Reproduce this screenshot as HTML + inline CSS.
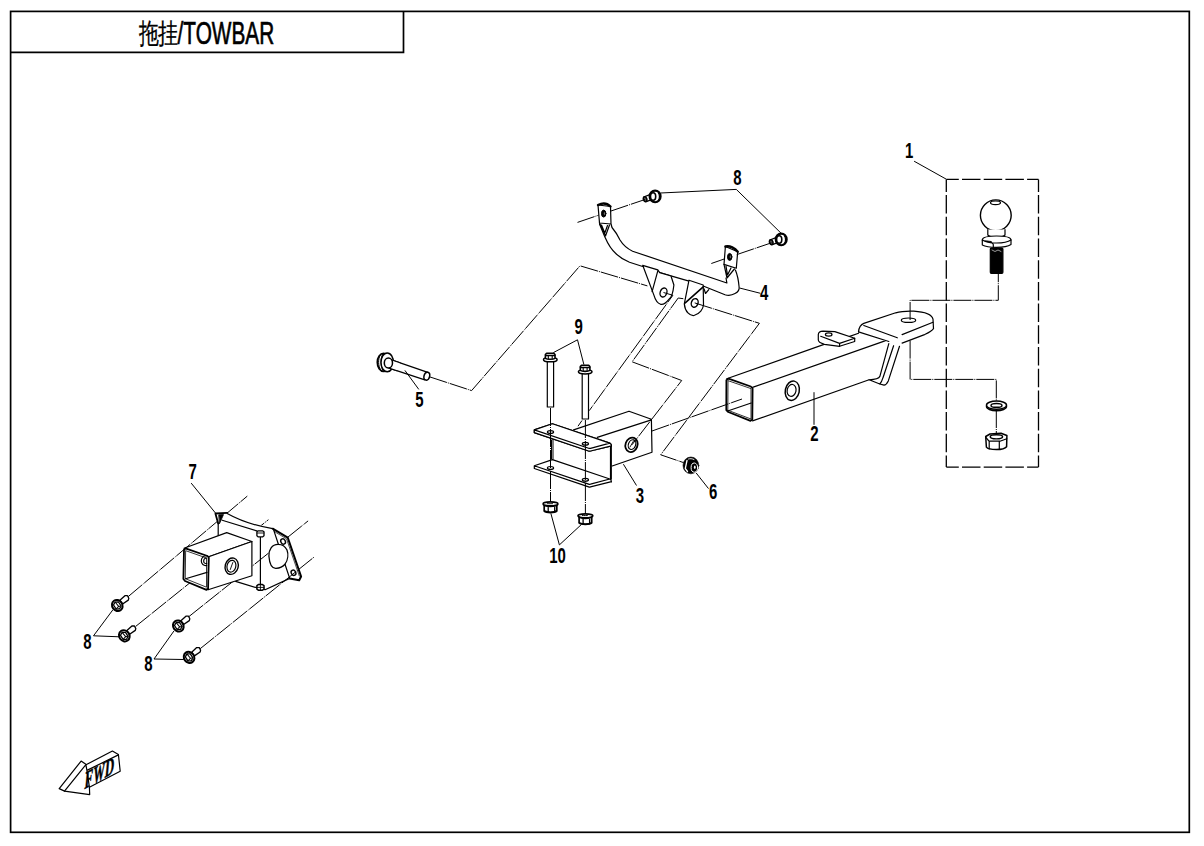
<!DOCTYPE html>
<html><head><meta charset="utf-8">
<style>
html,body{margin:0;padding:0;background:#fff;width:1204px;height:846px;overflow:hidden}
svg{display:block}
.t{font-family:"Liberation Sans",sans-serif;}
</style></head><body>
<svg width="1204" height="846" viewBox="0 0 1204 846">
<defs>
<g id="b8" fill="#fff" stroke="#000" stroke-width="1.2" stroke-linejoin="round">
<path d="M2.6 -5.2L7.6 -9.8L10.2 -9.8L11.5 -7.2L11 -5.4L5.3 -1.5Z" stroke-width="1.3"/>
<ellipse cx="0" cy="0" rx="5.1" ry="5.8" stroke-width="2" transform="rotate(-35)"/>
<path d="M-2.8 -2.6L0.2 -4.1L3 -2.2L2.8 2.6L-0.2 4.1L-3 2.2Z" stroke-width="1.3" transform="rotate(-35)"/>
<path d="M0.2 -4.1L0.6 1.5M-3 2.2L0.6 1.5L2.8 2.6" stroke-width="1" transform="rotate(-35)"/>
</g>
<g id="bt" fill="#fff" stroke="#000" stroke-width="1.2" stroke-linejoin="round">
<path d="M-11.4 0.6L-4.6 -2L-2.9 3L-8.8 5.2Z" stroke-width="1.3"/>
<ellipse cx="-10" cy="2.8" rx="1.7" ry="2.5" transform="rotate(-20 -10 2.8)" fill="#555" stroke-width="1.5"/>
<ellipse cx="0" cy="0" rx="5.5" ry="5.8" stroke-width="2.1"/>
<path fill="none" d="M3.2 -3.6C4.6 -2 4.8 2 3.2 4" stroke-width="1.2"/>
<ellipse cx="-2" cy="0.1" rx="2.6" ry="3.7" stroke-width="1.6"/>
</g>
</defs>

<!-- frame -->
<g fill="none" stroke="#000" stroke-linejoin="miter">
<rect x="10.6" y="11.4" width="1178.7" height="820.9" stroke-width="1.7"/>
<path d="M10.6 52.3H403.5V11.4" stroke-width="1.7"/>
</g>
<!-- title -->
<text class="t" x="0" y="0" font-size="28" transform="translate(138.5 42.6) scale(0.71 1)" fill="#000" stroke="#000" stroke-width="0.3">拖挂</text>
<text class="t" x="0" y="0" font-size="32" transform="translate(177.6 43.6) scale(0.65 1)" fill="#000" stroke="#000" stroke-width="0.7">/TOWBAR</text>

<!-- PART 7 under lines -->
<g fill="none" stroke="#000" stroke-width="1" stroke-dasharray="18 1 1 1">
<path d="M128.2 596.6L247.3 496.1"/>
<path d="M135.7 626.4L268.4 519.7"/>
<path d="M287.8 537.2L308.1 520.9"/>
</g>

<g fill="#fff" stroke="#000" stroke-width="1.2" stroke-linejoin="round" stroke-linecap="round">
<!-- PART 7 plate -->
<path stroke="none" d="M215.4 513.5L227.2 512.9C240 518 255 524 272.7 528.7L287.8 537.7L301.1 576.5L299.2 580.3L289.7 578.4L265.1 589.7L260 588.7L235.6 581.4L226.7 545L218.2 535.9L218.2 523.6Z"/>
<path fill="none" d="M218.2 523.6L215.4 513.5L227.2 512.9" stroke-width="1.8"/>
<path fill="#000" stroke-width="0.8" d="M219 514.8L223.5 514.6L219.6 523.4Z"/>
<path fill="none" d="M218.2 523.6V536"/>
<path fill="none" d="M227.2 513.5Q246 524.1 272.7 528.7"/>
<path fill="none" d="M222.2 520.2L256.8 530.9"/>
<path fill="none" d="M272.7 528.7L287.8 537.7L301.1 576.5L299.2 580.3L289.7 578.4" stroke-width="2"/>
<path fill="none" d="M274.3 531.5L286.5 538.8L299.3 576" stroke-width="0.7"/>
<path fill="none" d="M273.7 530.1L278.4 544.3M285 564.2L289.7 578.4"/>
<path fill="none" d="M289.7 578.4L265.1 589.7M235.6 581.4L260 588.7L265.1 589.7"/>
<path fill="none" d="M278.4 544.3C272 544 268.5 550 268.9 556C269.5 564 272 568.5 276 568.3C280 568 283 566.5 285 564.2C288 560 288.5 554 287 550C285 546 282 544.3 278.4 544.3Z" stroke-width="1.3"/>
<ellipse cx="283.1" cy="541.5" rx="2.2" ry="2.8" transform="rotate(-30 283.1 541.5)" stroke-width="1.4"/>
<ellipse cx="293.5" cy="572.7" rx="2.2" ry="2.8" transform="rotate(-30 293.5 572.7)" stroke-width="1.4"/>
<path fill="none" d="M260.4 536V585"/>
<path d="M256.9 531.8L258.3 530.8H262.5L264 531.8V535.8L262.5 536.9H258.3L256.9 535.8Z" stroke-width="1.3"/><path fill="none" d="M257.2 533H263.8" stroke-width="0.9"/>
<path d="M256.9 585.6L258.3 584.6H262.5L264 585.6V589.2L262.5 590.2H258.3L256.9 589.2Z" stroke-width="1.5"/><path fill="none" d="M256.9 587.4H264M260.4 584.6V590.2" stroke-width="0.9"/>
</g>

<!-- PART 7 over-plate lines -->
<g fill="none" stroke="#000" stroke-width="1" stroke-dasharray="18 1 1 1">
<path d="M189 616.5L268.9 552.8"/>
<path d="M200.2 648.7L314.3 556.9"/>
</g>

<g fill="#fff" stroke="#000" stroke-width="1.2" stroke-linejoin="round" stroke-linecap="round">
<!-- PART 7 box -->
<path d="M184 548.3L226.7 532.6L251.9 541.5L208.7 556.7Z"/>
<path d="M208.7 556.7L251.9 541.5L251.9 575.8L208.1 589.8Z"/>
<path d="M185.5 548.3L207.5 556L208.7 557.5L208.1 588.5L206.5 589.8L185 581L183.4 579L184 549.8Z" stroke-width="1.8"/>
<path fill="none" d="M186 550.8L206.5 558V587.2L185.6 578.8Z" stroke-width="0.8"/>
<path fill="none" d="M185.6 578.8L207 572.4"/>
<path fill="none" d="M206.7 555.8C203.5 555.5 201.2 558 201.3 561C201.4 564 203.5 566 206.7 565.5M206.7 558C204.8 558 203.6 559.5 203.7 561.2C203.8 563 205 563.8 206.7 563.4"/>
<ellipse cx="231.7" cy="566.2" rx="6.5" ry="8.3" transform="rotate(15 231.7 566.2)" stroke-width="1.4"/>
<ellipse cx="231.4" cy="566.2" rx="4.4" ry="6" transform="rotate(15 231.4 566.2)"/>
<path fill="none" d="M230.3 569.5L232.8 562.5" stroke-width="0.9"/>
</g>

<!-- PART 8 bolts (left) -->
<use href="#b8" transform="translate(117.3 605.5)"/>
<use href="#b8" transform="translate(124.3 635.8)"/>
<use href="#b8" transform="translate(178.3 626)"/>
<use href="#b8" transform="translate(189.1 657.4)"/>

<g fill="#fff" stroke="#000" stroke-width="1.2" stroke-linejoin="round" stroke-linecap="round">
<!-- PART 4 bracket -->
<path fill="none" d="M599.5 224L604.9 237C607.5 243 611 249.5 616.3 254C620 257.5 624 260 629.5 262.3L642.7 266.5"/>
<path fill="none" d="M659.7 272.7L689 281.2"/>
<path fill="none" d="M703.2 286L725 294.7C732 297 740 292 739.1 287C738.5 280 737 274 735.4 270.1"/>
<path fill="none" d="M611.2 224.5L612 227.5C615 231 618 236 620 240C623 245 627 248.5 632.6 251.2L726.9 283L726 278"/>
<!-- left lower tab -->
<path d="M642.7 265.3L657.8 269.8L659.7 272.7L671 276L673.9 285C673 293 671 298 669.1 299.1C666 303 663 305 660.6 304.3C657 303 655 299 654 295.4Z"/>
<path fill="none" d="M657.8 270.8L652.1 291.6"/>
<ellipse cx="663.5" cy="292.5" rx="3.3" ry="4.6" transform="rotate(20 663.5 292.5)" stroke-width="1.4"/>
<!-- right lower tab -->
<path d="M689 280.2L703.2 285L703.5 305C703 309 700 314 694 315.5C690 316 685 312 684.3 303.9Z"/>
<path fill="none" d="M703.2 286.9L685.2 302.9" stroke-width="1.6"/>
<path fill="none" d="M704.1 288.8L705.5 293.5L708.8 289.7"/>
<ellipse cx="694.7" cy="302.9" rx="3.3" ry="4.4" transform="rotate(20 694.7 302.9)" stroke-width="1.4"/>
<!-- upper tabs -->
<path d="M598 205L610.5 206.5L611 224L599.5 223Z"/>
<path d="M598 205C603 202.5 607 203 610.5 206.5" fill="none" stroke-width="2.4"/>
<path fill="none" d="M599.5 223L605.5 236L609.5 225M601.5 225L604.8 233L607.5 225.5"/>
<ellipse cx="603.7" cy="213.6" rx="2.2" ry="3.5" fill="#000" stroke-width="1"/><ellipse cx="604.3" cy="213.4" rx="0.5" ry="1.5" fill="#888" stroke="none"/>
<path d="M725.4 246.5L737.7 251.7L736.3 268.2L724 264.4Z"/>
<path d="M725.4 246.5C730 245.5 735 248 737.7 251.7" fill="none" stroke-width="2.4"/>
<path fill="none" d="M724 264.4L727 278L734.4 269M726 266L727.5 275L731 268"/>
<ellipse cx="729.7" cy="256.9" rx="2.2" ry="3.5" fill="#000" stroke-width="1"/><ellipse cx="730.3" cy="256.7" rx="0.5" ry="1.5" fill="#888" stroke="none"/>
</g>
<use href="#bt" transform="translate(655.1 196.4)"/>
<use href="#bt" transform="translate(781.2 239.4)"/>

<g fill="#fff" stroke="#000" stroke-width="1.2" stroke-linejoin="round" stroke-linecap="round">
<!-- PART 5 bolt -->
<path d="M392.9 360.4L427.8 372.4L424.8 379.9L389.9 368.4Z"/>
<ellipse cx="426.8" cy="376.2" rx="2.8" ry="4" transform="rotate(15 426.8 376.2)" stroke-width="1.5"/>
<ellipse cx="383.6" cy="362.3" rx="6.3" ry="9" stroke-width="1.7"/>
<path fill="none" d="M380 355.5C378 359 378 366 380.5 369.5M382.5 354.5C380.5 358.5 380.5 366 383 370.5" stroke-width="1"/>
<path d="M387.2 353C391 353 393.4 357.5 393.4 362.4C393.4 367.5 391 371.8 387.2 371.8C383.5 371.8 381 367.5 381 362.4C381 357.5 383.5 353 387.2 353Z" stroke-width="1.5"/>
<path stroke="none" d="M392.9 360.4L400 362.8L397 370.8L389.9 368.4Z"/>
<path fill="none" d="M391 359.8L400 362.8M389 368.1L397 370.7"/>
<ellipse cx="388.4" cy="363" rx="4.1" ry="5" stroke-width="1.5"/>

<!-- PART 9 bolts -->
<path d="M547.3 360V407H553.6V360"/>
<path d="M582.2 372V419H588.5V372"/>
<g id="b9">
<ellipse cx="550.3" cy="359.7" rx="6.8" ry="2.1" stroke-width="1.5"/>
<path d="M545.4 354.5L546.6 353.2H553.8L555 354.5V358.3C553 359.6 547.4 359.6 545.4 358.3Z" stroke-width="1.6"/>
<path fill="none" d="M545.6 355.4H554.8" stroke-width="1.5"/>
<path fill="none" d="M548.3 355.6V359M552.2 355.6V359" stroke-width="1.1"/>
</g>
<use href="#b9" transform="translate(34.9 12.1)"/>

<!-- PART 3 bracket -->
<path stroke="none" d="M573.6 429.9L629 411.2L651.4 419.3L652 452.3L612.2 466L597.2 437.4Z"/>
<path fill="none" d="M573.6 429.9L629 411.2L651.4 419.3L652 452.3L612.2 466M597.2 437.4L651.4 419.9"/>
<ellipse cx="631.5" cy="444.8" rx="6" ry="7.4" transform="rotate(20 631.5 444.8)" stroke-width="1.8"/>
<ellipse cx="632" cy="444.6" rx="3.6" ry="5" transform="rotate(20 632 444.6)"/>
<path fill="none" d="M630 447L633.5 441" stroke-width="0.9"/>
<path stroke="none" d="M553 439L611.6 444V479L553 459.5Z"/>
<g id="p3plate">
<path stroke="none" d="M534.3 429.9L552.4 423.7L609.8 443.1Q611.8 444.2 611 446L589.5 451.5L534.3 432.6Z"/>
<path fill="none" d="M534.3 432.6V429.9L552.4 423.7L609.8 443.1Q611.5 444 611.5 446M534.3 429.9L588.6 448.2Q589.5 448.6 590.5 448.3L609.8 443.1M534.3 432.6L588.6 451Q589.5 451.3 590.5 451L611.5 445.8"/>
</g>
<use href="#p3plate" transform="translate(0 35.9)"/>
<path fill="none" d="M610.9 445.8V479" stroke-width="2"/>
<path fill="none" d="M553 439.5V459.3M551.5 440V459" stroke-width="1"/>
<use href="#p3plate"/>
<ellipse cx="550.5" cy="432.1" rx="3.1" ry="1.4"/>
<ellipse cx="585.4" cy="443.8" rx="3.1" ry="1.4"/>
<ellipse cx="550.5" cy="467.9" rx="3.1" ry="1.4"/>
<ellipse cx="585.4" cy="479.7" rx="3.1" ry="1.4"/>

<!-- PART 10 nuts -->
<path d="M544.2 504.9V511.09999999999997C545.5 512.3 548.5 512.6 550.5 512.6C552.5 512.6 555.5 512.3 556.8 511.09999999999997V504.9Z" stroke-width="1.7"/>
<path fill="none" d="M548.2 507.4V512.4M554.7 507.4V511.9M544.5 510.9C547.5 512.4 553.5 512.4 556.5 510.9" stroke-width="1.3"/>
<ellipse cx="550.5" cy="503.9" rx="7.4" ry="2" stroke-width="1.7"/>
<path fill="none" d="M545.5 505.7C548.5 506.9 552.5 506.9 555.5 505.7" stroke-width="1.3"/>
<path fill="none" d="M547.5 503.7H553.5" stroke-width="1" stroke-dasharray="1 1"/>
<path d="M579.1 516.8V523.0C580.4 524.1999999999999 583.4 524.5 585.4 524.5C587.4 524.5 590.4 524.1999999999999 591.6999999999999 523.0V516.8Z" stroke-width="1.7"/>
<path fill="none" d="M583.1 519.3V524.3M589.6 519.3V523.8M579.4 522.8C582.4 524.3 588.4 524.3 591.4 522.8" stroke-width="1.3"/>
<ellipse cx="585.4" cy="515.8" rx="7.4" ry="2" stroke-width="1.7"/>
<path fill="none" d="M580.4 517.5999999999999C583.4 518.8 587.4 518.8 590.4 517.5999999999999" stroke-width="1.3"/>
<path fill="none" d="M582.4 515.5999999999999H588.4" stroke-width="1" stroke-dasharray="1 1"/>

<!-- PART 6 nut -->
<ellipse cx="690.9" cy="465.4" rx="7.9" ry="8.4" fill="#000" stroke="#000" stroke-width="0.6"/>
<path fill="none" stroke="#fff" stroke-width="1.3" d="M687 460.5L685.3 468.5L687.5 471.5"/>
<path fill="none" stroke="#fff" stroke-width="0.9" d="M688.5 459C690 458.5 692 458.5 694 459.5"/>
<ellipse cx="694.4" cy="467.6" rx="3.3" ry="4.6" fill="none" stroke="#fff" stroke-width="1"/>
<ellipse cx="694.8" cy="467.2" rx="0.9" ry="1.8" fill="#fff" stroke="none"/>

<!-- PART 2 tube -->
<path stroke="none" d="M726.7 378.8L824.1 344.4L858.5 331.9L888.8 343.6L879.8 376.6L869 380.7L752.5 420.9Z"/>
<path fill="none" d="M726.7 378.8L824.1 344.4M849 336.6L858.5 333.3M752.5 387.4L887.8 339.9M752.5 420.9L869.1 379.8"/>
<path d="M728.5 378.6L750.8 386.5L752.6 388.5L752.3 419.5L750.5 420.8L728.3 412L726.3 410L726.4 380.3Z" stroke-width="1.8"/>
<path fill="none" d="M728.4 380.8L751 388.6V419L728.2 410.4Z" stroke-width="0.8"/>
<path fill="none" d="M728.4 410.8L751.2 403"/>
<ellipse cx="792.3" cy="390.7" rx="7" ry="9.8" transform="rotate(12 792.3 390.7)" stroke-width="1.5"/>
<ellipse cx="791.6" cy="390.4" rx="4.4" ry="6" transform="rotate(12 791.6 390.4)" stroke-width="1.2"/>
<!-- tube tab -->
<path d="M818.3 340.1V334.5C818.5 332.5 820.5 331.1 823 331.1L834.8 331.6L854.7 338.2V341.5L839.6 346.3L824.4 344.4C821.5 343.5 818.3 342 818.3 340.1Z"/>
<path fill="none" d="M820.7 336.3L839.6 343.4L854.7 338.2M839.6 343.4V346.3"/>
<ellipse cx="828.7" cy="334.5" rx="3.3" ry="1.6"/>
<!-- hitch plate -->
<path stroke="none" d="M858.5 331.9C859 327 861 324.5 863.8 323.4L895.7 312.8C902 311 908 311 913.8 311.2C925 312 932 315 933 319.1L933.5 328.7C931 332 927 333.5 924.5 334.6L902.1 343.1L897.3 338.5L886 341.6Z"/>
<path fill="none" d="M858.5 331.9C859 327 861 324.5 863.8 323.4L895.7 312.8C902 311 908 311 913.8 311.2C925 312 932 315 933 319.1L933.5 328.7C931 332 927 333.5 924.5 334.6L902.1 343.1"/>
<path fill="none" d="M863.8 325.5L897.3 337.8M902.1 334.6L933 322.3M858.5 331.9L888.8 341.5"/>
<ellipse cx="908.5" cy="320.2" rx="7.2" ry="2.2"/>
<path stroke="none" d="M886.2 341.6L899.5 346.3L888.3 380.9C887 383.5 885.5 385 884 385.1L870.2 379.8C876 379.5 879 378.5 879.8 376.6Z"/>
<path fill="none" d="M888.8 343.6L879.8 376.6C879 378.5 876 379.5 869.1 379.8M893.6 345.7L883 377.7C882 381 881 383 879.8 384M899.5 346.3L888.3 380.9C887 383.5 885.5 385 884 385.1L879.8 384L869.1 379.8"/>

<!-- PART 1 ball hitch -->
<circle cx="995.8" cy="215.3" r="15.4" stroke-width="1.4"/>
<ellipse cx="995.5" cy="202.8" rx="5" ry="1.8"/>
<path d="M987.8 229.5V235C990 237 993 237.5 996.4 237.5C1000 237.5 1003 237 1005 235V229.5"/>
<path d="M982.3 240C982.3 237 990 236 996.5 236C1003 236 1011 237 1011 240V244.5C1008 246.5 1003 247.4 996.5 247.4C990 247.4 985 246.5 982.3 245Z"/>
<path fill="none" d="M982.3 240C985 242 990 243 996.5 243C1003 243 1008 242 1011 240M982.5 240.5L991 241.5L993.3 244.5V247.3"/>
<rect x="990.3" y="248" width="12.6" height="25.3" rx="1" fill="#000"/>
<path fill="none" stroke="#fff" stroke-width="0.6" d="M992 250L995 251.5L998 250L1001 251.5"/>

<ellipse cx="996.5" cy="406.6" rx="10" ry="4.1" stroke-width="1.5"/>
<ellipse cx="996.5" cy="405.2" rx="10" ry="4.1" stroke-width="1.5"/>
<ellipse cx="996.5" cy="405.4" rx="5.5" ry="1.9" stroke-width="1.4"/>
<path d="M985.7 436.5L990 434L1001 433.3L1006.9 435.5L1006.6 446.8C1005 448.8 1002 449.6 996.4 449.6C991 449.6 987.5 448.8 986.4 447.2Z" stroke-width="1.5"/>
<path fill="none" d="M985.9 437.5L989 441.2H1000L1006.8 438.8M989.2 441.2V449M999.3 441.2V449.5" stroke-width="1.2"/>
<ellipse cx="996.4" cy="436.8" rx="6.2" ry="2.1" stroke-width="1.4"/>

<!-- FWD arrow -->
<path d="M59.2 788.6L81.1 761.1L85.9 764.3L86.5 764.5L112.4 751L118.4 754.5L120.2 771.2L89.4 787.2L89.7 794.6L64.5 791.1Z"/>
<path fill="none" d="M64.5 791.1L85.9 764.6L86.9 770.4L118.4 754.9M86.9 770.4L89.4 787.2"/>
</g>
<text x="0" y="0" font-family="Liberation Serif" font-weight="bold" font-style="italic" font-size="24" transform="translate(84.5 789) skewY(-29) scale(0.54 1)" fill="#000" stroke="#000" stroke-width="0.6">FWD</text>

<!-- center (dash-dot) lines over parts -->
<g fill="none" stroke="#000" stroke-width="1" stroke-dasharray="18 1 1 1">
<path d="M429.8 376.9L471.6 390.6L580 265.8L647.4 285.9"/>
<path d="M663.5 292.5L672.9 295.3L589.2 410.7M582 420.5L578 426.2"/>
<path d="M683.3 298.7L678.2 298L632.1 361.8L681.7 380.5L632 444.8"/>
<path d="M694.7 302.9L759.4 323.3L660.7 454.8L683.5 462.6"/>
<path d="M652 431L742 399"/>
<path d="M577.5 222.4L598.6 215.2M611 211L645 199.5"/>
<path d="M711.3 263.5L724.5 258.9M736.8 254.6L771.5 242.8"/>
<path d="M550.5 408V502"/>
<path d="M585.4 420V514"/>
<path d="M910.1 320V300.3H998.3V274"/>
<path d="M910.1 340.6V379.4H996.3V401"/>
<path d="M996.3 410V434"/>
</g>
<!-- dashed box part 1 -->
<g fill="none" stroke="#000" stroke-width="1.3" stroke-dasharray="18.5 3.2" stroke-dashoffset="6">
<path d="M946.3 179.4H1038.5"/><path d="M946.3 179.4V467.1"/><path d="M1038.5 179.4V467.1"/><path d="M946.3 467.1H1038.5"/>
</g>

<!-- leaders -->
<g fill="none" stroke="#000" stroke-width="1">
<path d="M914.1 161.2L946.3 179.2"/>
<path d="M814 392.2V424.8"/>
<path d="M623.4 464.2L636.5 485.5"/>
<path d="M739.6 288L760.4 293.3"/>
<path d="M404.9 370.4L418.8 389.4"/>
<path d="M696.2 473L708.5 488.6"/>
<path d="M191.2 483.1L215.6 513.2"/>
<path d="M660.4 193L736.3 189.4L781.7 233.8"/>
<path d="M553.4 352.6L577.5 339.8L583.9 364.6"/>
<path d="M550.9 513.5L559.4 544.9L581.2 524.7"/>
<path d="M112.9 609.8L93.5 635.8L119.4 636.8"/>
<path d="M174 630.9L154 659L183.7 659.5"/>
</g>

<!-- labels -->
<g class="t" font-size="22" font-weight="bold" fill="#000" text-anchor="middle">
<text transform="translate(909.2 157.7) scale(0.68 1)">1</text>
<text transform="translate(814.5 441.2) scale(0.68 1)">2</text>
<text transform="translate(639.8 502.5) scale(0.68 1)">3</text>
<text transform="translate(764.2 300) scale(0.68 1)">4</text>
<text transform="translate(419.5 407.1) scale(0.68 1)">5</text>
<text transform="translate(713.2 499.3) scale(0.68 1)">6</text>
<text transform="translate(192.6 479.3) scale(0.68 1)">7</text>
<text transform="translate(737.5 184.8) scale(0.68 1)">8</text>
<text transform="translate(87.5 648.5) scale(0.68 1)">8</text>
<text transform="translate(148.3 671.2) scale(0.68 1)">8</text>
<text transform="translate(578.6 333.6) scale(0.68 1)">9</text>
<text transform="translate(557.5 563) scale(0.68 1)">10</text>
</g>
</svg>
</body></html>
